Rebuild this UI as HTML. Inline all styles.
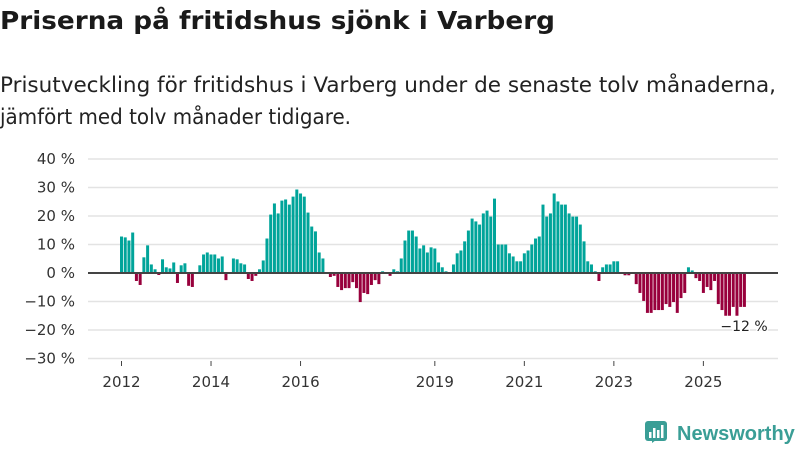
<!DOCTYPE html>
<html><head><meta charset="utf-8"><style>
body{margin:0;width:800px;height:450px;background:#fff;font-family:"Liberation Sans","DejaVu Sans",sans-serif;overflow:hidden}
svg text{font-family:"DejaVu Sans","Liberation Sans",sans-serif}
</style></head><body>
<svg id="chart" width="800" height="450" viewBox="0 0 800 450">
<text x="0" y="29" font-size="25" font-weight="bold" fill="#1a1a1a" textLength="555" lengthAdjust="spacingAndGlyphs">Priserna på fritidshus sjönk i Varberg</text>
<text x="0" y="92" font-size="21" fill="#222" textLength="776" lengthAdjust="spacingAndGlyphs">Prisutveckling för fritidshus i Varberg under de senaste tolv månaderna,</text>
<text x="0" y="124" font-size="21" fill="#222" textLength="351" lengthAdjust="spacingAndGlyphs">jämfört med tolv månader tidigare.</text>
<g id="grid"></g><g id="bars"></g><g id="axes"></g>
<text x="744" y="331" font-size="14" text-anchor="middle" fill="#222" stroke="#fff" stroke-width="3" paint-order="stroke">−12 %</text>
<g>
<rect x="645" y="421" width="22" height="20" rx="3" fill="#3a9e96"/>
<path d="M652 443 l4 -3 h-4z" fill="#3a9e96"/>
<rect x="649" y="432" width="2.5" height="6" fill="#fff"/><rect x="653" y="428" width="2.5" height="10" fill="#fff"/><rect x="657" y="430" width="2.5" height="8" fill="#fff"/><rect x="661" y="425" width="2.5" height="13" fill="#fff"/>
<text x="677" y="440" font-size="20" fill="#3a9e96" font-weight="bold" style="font-family:'Liberation Sans',sans-serif">Newsworthy</text>
</g>
</svg>
<script>
const values = [
12.8,12.5,11.4,14.2,-2.8,-4.2,5.5,9.7,3.0,1.3,-0.7,4.8,
2.0,1.6,3.7,-3.5,2.7,3.4,-4.5,-4.9,0,2.7,6.5,7.2,
6.5,6.5,5.1,5.8,-2.5,0,5.1,4.8,3.4,3.0,-2.1,-2.8,
-1.0,1.3,4.4,12.1,20.5,24.4,20.9,25.4,25.8,24.0,26.8,29.3,
27.9,26.8,21.2,16.3,14.6,7.2,5.1,0,-1.4,-1.0,-4.9,-6.0,
-5.3,-5.3,-3.2,-5.3,-10.2,-7.0,-7.4,-4.2,-2.5,-3.9,0.6,0,
-1.0,1.3,0.6,5.1,11.4,14.9,14.9,12.8,8.6,9.7,7.2,9.0,
8.6,3.7,2.0,0.6,0,3.0,6.9,7.9,11.1,14.9,19.1,18.1,
17.0,20.9,21.9,19.8,26.1,10.0,10.0,10.0,6.9,5.8,4.1,4.1,
6.9,7.9,10.0,12.1,12.8,24.0,19.8,20.9,27.9,25.1,24.0,24.0,
20.9,19.8,19.8,17.0,11.1,4.1,3.0,0.6,-2.8,2.0,3.0,3.0,
4.1,4.1,0,-0.8,-0.8,0,-3.9,-7.0,-9.8,-14,-14,-13,
-13,-13,-10.9,-11.9,-10.2,-14,-8.8,-7.0,2.0,0.9,-1.8,-2.8,
-7.0,-4.9,-6.0,-2.8,-10.9,-13,-15,-15,-11.9,-15,-11.9,-11.9];
const startYear = 2012;
const yTicks = [40,30,20,10,0,-10,-20,-30];
const xTickYears = [2012,2014,2016,2019,2021,2023,2025];
const NS='http://www.w3.org/2000/svg';
const x = i => 121.5 + i*3.73;
const y = v => 273 - v*2.85;
function mk(tag, attrs, parent){const e=document.createElementNS(NS,tag);for(const k in attrs)e.setAttribute(k,attrs[k]);parent.appendChild(e);return e;}
const grid=document.getElementById('grid'), bars=document.getElementById('bars'), axes=document.getElementById('axes');
yTicks.forEach(t=>{
  if(t!==0){const l=mk('line',{x1:88,x2:778,y1:y(t),y2:y(t),stroke:'#e3e3e3','stroke-width':1.5},grid);
  
  }
  const tx=mk('text',{x:75,y:y(t)+5,'font-size':15,'text-anchor':'end',fill:'#333'},axes);
  tx.textContent=(t<0?'−'+(-t):t)+' %';
  
  
});
values.forEach((v,i)=>{
  if(v===0)return;
  const r=mk('rect',{x:x(i)-1.5,width:3,y:Math.min(y(v),y(0)),height:Math.abs(y(v)-y(0)),fill:v>0?'#00a49a':'#98003c'},bars);
  
  
});
const zl=mk('line',{x1:88,x2:778,y1:y(0),y2:y(0),stroke:'#444','stroke-width':2},axes);


xTickYears.forEach(yr=>{
  const i=(yr-startYear)*12;
  const tk=mk('line',{x1:x(i),x2:x(i),y1:361,y2:366,stroke:'#444','stroke-width':1},axes);
  
  
  const tx=mk('text',{x:x(i),y:387,'font-size':15,'text-anchor':'middle',fill:'#333'},axes);
  tx.textContent=yr;
  
  
});
</script>
</body></html>
